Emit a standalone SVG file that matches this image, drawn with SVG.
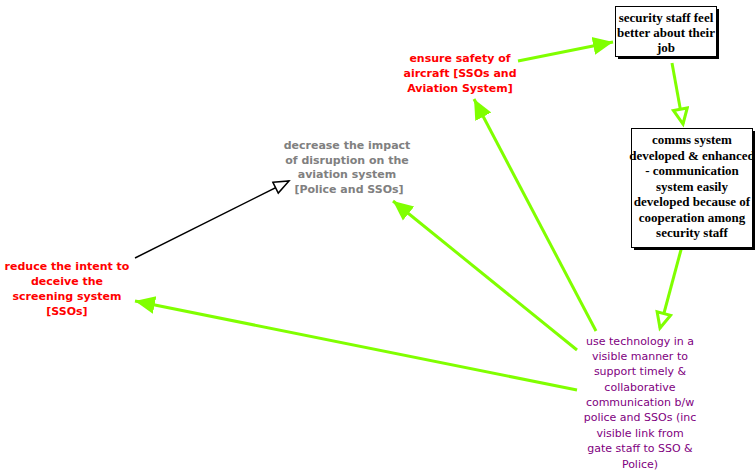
<svg xmlns="http://www.w3.org/2000/svg" width="756" height="473" viewBox="0 0 756 473">
  <style>
    .goal { font-family: "DejaVu Sans", Verdana, sans-serif; font-size: 11px; font-weight: bold; text-anchor: middle; }
    .red { fill: #ff0000; }
    .grey { fill: #808080; }
    .purple { font-family: "DejaVu Sans", Verdana, sans-serif; font-size: 11px; fill: #800080; text-anchor: middle; }
    .boxtext { font-family: "Liberation Serif", "Times New Roman", serif; font-size: 13px; font-weight: bold; fill: #000; text-anchor: middle; }
    .box { fill: #fff; stroke: #000; stroke-width: 1; }
    .shadow { fill: #000; }
    .link { stroke: #80ff00; stroke-width: 3; fill: none; }
    .blink { stroke: #000; stroke-width: 1.5; fill: none; }
  </style>
  <defs>
    <marker id="headFill" markerUnits="userSpaceOnUse" markerWidth="24" markerHeight="22" refX="20" refY="10" orient="auto">
      <path d="M0,1 L20,10 L0,19 z" fill="#80ff00"/>
    </marker>
    <marker id="headOpen" markerUnits="userSpaceOnUse" markerWidth="22" markerHeight="20" refX="17" refY="9" orient="auto">
      <path d="M2,2 L17,9 L2,16 z" fill="#fff" stroke="#80ff00" stroke-width="3" stroke-linejoin="miter"/>
    </marker>
    <marker id="headOpenBlack" markerUnits="userSpaceOnUse" markerWidth="20" markerHeight="18" refX="16" refY="8" orient="auto">
      <path d="M1,2 L16,8 L1,14 z" fill="#fff" stroke="#000" stroke-width="1.5"/>
    </marker>
  </defs>

  <rect width="756" height="473" fill="#fff"/>

  <!-- connectors -->
  <g id="connectors">
    <line class="blink" x1="135" y1="258" x2="289" y2="181" marker-end="url(#headOpenBlack)"/>
    <line class="link" x1="518" y1="61" x2="613" y2="42" marker-end="url(#headFill)"/>
    <line class="link" x1="672" y1="63" x2="683" y2="124" marker-end="url(#headOpen)"/>
    <line class="link" x1="682" y1="246" x2="660" y2="328" marker-end="url(#headOpen)"/>
    <line class="link" x1="596" y1="331" x2="474" y2="99" marker-end="url(#headFill)"/>
    <line class="link" x1="577" y1="350" x2="393" y2="201" marker-end="url(#headFill)"/>
    <line class="link" x1="577" y1="390" x2="135" y2="301" marker-end="url(#headFill)"/>
  </g>

  <!-- nodes -->
  <g id="node-security-staff">
    <rect class="shadow" x="618" y="9" width="101" height="50"/>
    <rect class="box" x="615.5" y="6.5" width="101" height="50"/>
    <text class="boxtext" x="666" y="22">security staff feel</text>
    <text class="boxtext" x="666" y="37">better about their</text>
    <text class="boxtext" x="666" y="52">job</text>
  </g>

  <g id="node-comms-system">
    <rect class="shadow" x="634" y="131" width="121" height="119"/>
    <rect class="box" x="631.5" y="128.5" width="121" height="119"/>
    <text class="boxtext" x="692" y="144">comms system</text>
    <text class="boxtext" x="692" y="160">developed &amp; enhanced</text>
    <text class="boxtext" x="692" y="175">- communication</text>
    <text class="boxtext" x="692" y="191">system easily</text>
    <text class="boxtext" x="692" y="206">developed because of</text>
    <text class="boxtext" x="692" y="222">cooperation among</text>
    <text class="boxtext" x="692" y="237">security staff</text>
  </g>

  <g id="node-ensure-safety">
    <text class="goal red" x="460" y="62">ensure safety of</text>
    <text class="goal red" x="460" y="77">aircraft [SSOs and</text>
    <text class="goal red" x="460" y="92">Aviation System]</text>
  </g>

  <g id="node-decrease-impact">
    <text class="goal grey" x="347" y="149">decrease the impact</text>
    <text class="goal grey" x="347" y="164">of disruption on the</text>
    <text class="goal grey" x="347" y="178">aviation system</text>
    <text class="goal grey" x="349" y="193">[Police and SSOs]</text>
  </g>

  <g id="node-reduce-intent">
    <text class="goal red" x="67" y="270">reduce the intent to</text>
    <text class="goal red" x="67" y="285">deceive the</text>
    <text class="goal red" x="67" y="300">screening system</text>
    <text class="goal red" x="67" y="315">[SSOs]</text>
  </g>

  <g id="node-use-technology">
    <text class="purple" x="640" y="345">use technology in a</text>
    <text class="purple" x="640" y="360">visible manner to</text>
    <text class="purple" x="640" y="375">support timely &amp;</text>
    <text class="purple" x="640" y="391">collaborative</text>
    <text class="purple" x="640" y="406">communication b/w</text>
    <text class="purple" x="640" y="421">police and SSOs (inc</text>
    <text class="purple" x="640" y="437">visible link from</text>
    <text class="purple" x="640" y="452">gate staff to SSO &amp;</text>
    <text class="purple" x="640" y="468">Police)</text>
  </g>
</svg>
